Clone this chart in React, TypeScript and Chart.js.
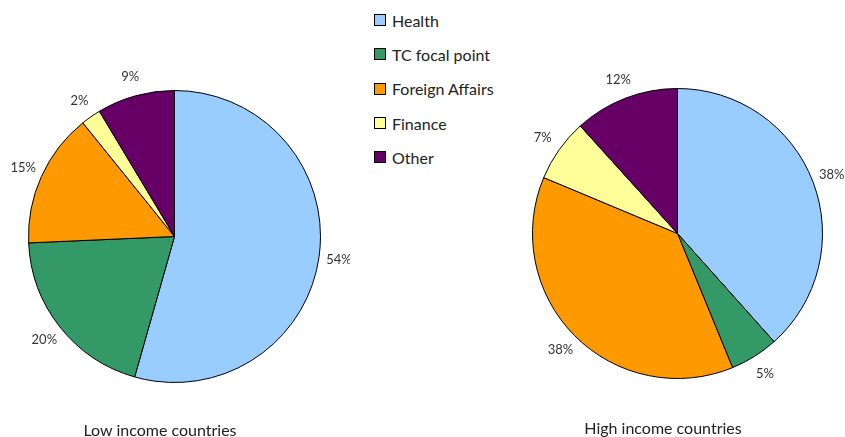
import React, { useEffect, useRef } from "react";
import { Chart, registerables } from "chart.js";

Chart.register(...registerables);

const categories = ["Health", "TC focal point", "Foreign Affairs", "Finance", "Other"];
const lowIncomeValues = [54.4, 19.9, 14.9, 2.2, 8.6];
const highIncomeValues = [38.4, 5.4, 37.5, 7.0, 11.7];
const colors = ["#99CCFF", "#339966", "#FF9900", "#FFFF99", "#660066"];
const captions = ["Low income countries", "High income countries"];

const FONT = "Lato, 'Open Sans', sans-serif";

const outsideLabels = {
  id: "outsideLabels",
  afterDatasetsDraw(chart: any) {
    const ctx = chart.ctx;
    const meta = chart.getDatasetMeta(0);
    const data = chart.data.datasets[0].data as number[];
    const total = data.reduce((a, b) => a + b, 0);
    ctx.save();
    ctx.font = `13px ${FONT}`;
    ctx.fillStyle = "#333333";
    ctx.textAlign = "center";
    ctx.textBaseline = "middle";
    meta.data.forEach((arc: any, i: number) => {
      const p = arc.getProps(["x", "y", "startAngle", "endAngle", "outerRadius"], true);
      const mid = (p.startAngle + p.endAngle) / 2;
      const r = p.outerRadius + 20;
      const x = p.x + Math.cos(mid) * r;
      const y = p.y + Math.sin(mid) * r;
      ctx.fillText(Math.round((data[i] / total) * 100) + "%", x, y);
    });
    ctx.restore();
  },
};

function PieChart({ values, padding, style }: { values: number[]; padding: any; style: React.CSSProperties }) {
  const ref = useRef<HTMLCanvasElement | null>(null);
  useEffect(() => {
    if (!ref.current) return;
    const chart = new Chart(ref.current, {
      type: "pie",
      data: {
        labels: categories,
        datasets: [
          {
            data: values,
            backgroundColor: colors,
            borderColor: "#000000",
            borderWidth: 1,
          },
        ],
      },
      options: {
        responsive: false,
        animation: false,
        layout: { padding },
        plugins: {
          legend: { display: false },
          tooltip: { enabled: false },
        },
      },
      plugins: [outsideLabels],
    });
    return () => chart.destroy();
  }, []);
  return <canvas ref={ref} width={350} height={437} style={style} />;
}

export default function App() {
  return (
    <div
      style={{
        position: "fixed",
        left: 0,
        top: 0,
        width: 845,
        height: 437,
        background: "#ffffff",
        fontFamily: FONT,
        color: "#222",
      }}
    >
      <PieChart
        values={lowIncomeValues}
        padding={{ left: 28, right: 29, top: 90, bottom: 54 }}
        style={{ position: "absolute", left: 0, top: 0 }}
      />
      <PieChart
        values={highIncomeValues}
        padding={{ left: 37, right: 22, top: 88, bottom: 58 }}
        style={{ position: "absolute", left: 495, top: 0 }}
      />
      <div style={{ position: "absolute", left: 374, top: 3 }}>
        {categories.map((c, i) => (
          <div key={c} style={{ display: "flex", alignItems: "center", height: 34.3, fontSize: 16 }}>
            <span
              style={{
                display: "inline-block",
                width: 10,
                height: 10,
                background: colors[i],
                border: "1px solid #000",
                marginRight: 6,
              }}
            />
            <span>{c}</span>
          </div>
        ))}
      </div>
      <div style={{ position: "absolute", left: 10, width: 300, top: 420, textAlign: "center", fontSize: 16 }}>
        {captions[0]}
      </div>
      <div style={{ position: "absolute", left: 513, width: 300, top: 418, textAlign: "center", fontSize: 16 }}>
        {captions[1]}
      </div>
    </div>
  );
}
